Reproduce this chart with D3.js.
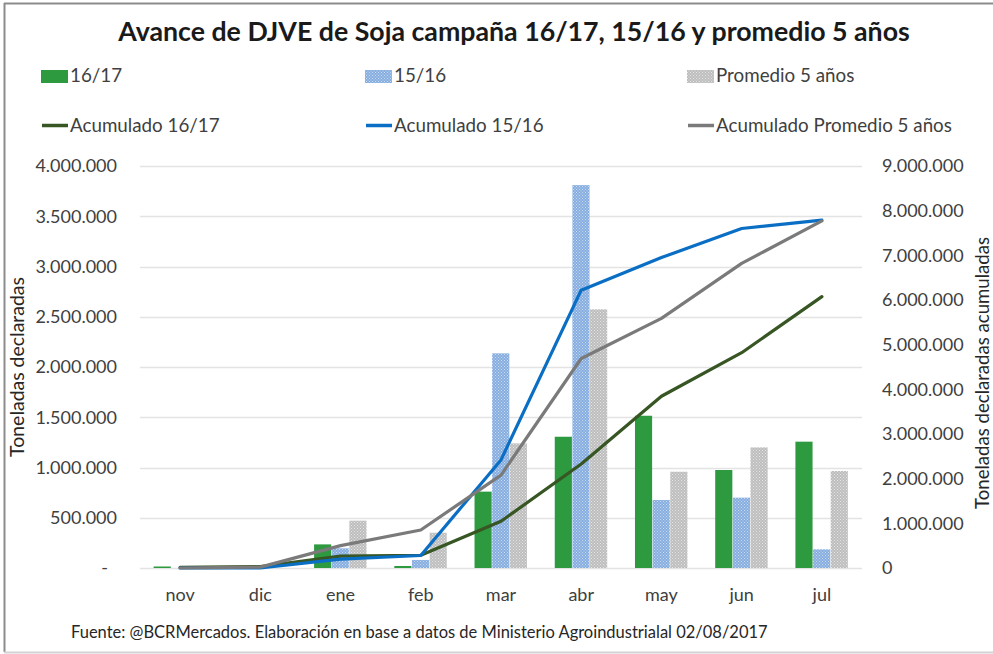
<!DOCTYPE html>
<html>
<head>
<meta charset="utf-8">
<script src="https://cdn.jsdelivr.net/npm/d3@7"></script>
<style>
  html, body { margin: 0; padding: 0; background: #fff; }
  svg { display: block; font-family: Lato, "Open Sans", sans-serif; }
</style>
</head>
<body>
<svg id="chart" width="993" height="654"></svg>
<script>
// ---- data ----
const months = ["nov", "dic", "ene", "feb", "mar", "abr", "may", "jun", "jul"];
const bars1617 = [15000, 15000, 235000, 20000, 760000, 1306000, 1515000, 975000, 1257000];
const bars1516 = [0, 0, 196000, 80000, 2136000, 3810000, 677000, 700000, 186000];
const barsProm = [0, 0, 471000, 351000, 1240000, 2574000, 958000, 1200000, 965000];
const acum1617 = [15000, 30000, 265000, 285000, 1045000, 2330000, 3845000, 4820000, 6075000];
const acum1516 = [0, 0, 200000, 280000, 2420000, 6220000, 6950000, 7600000, 7790000];
const acumProm = [0, 20000, 500000, 850000, 2080000, 4690000, 5590000, 6820000, 7770000];
const leftTicks = [0, 500000, 1000000, 1500000, 2000000, 2500000, 3000000, 3500000, 4000000];
const rightTicks = [0, 1000000, 2000000, 3000000, 4000000, 5000000, 6000000, 7000000, 8000000, 9000000];
const barSeries = ["16/17", "15/16", "Promedio 5 años"];
const lineSeries = ["Acumulado 16/17", "Acumulado 15/16", "Acumulado Promedio 5 años"];
const titleText = "Avance de DJVE de Soja campaña 16/17, 15/16 y promedio 5 años";
const leftTitle = "Toneladas declaradas";
const rightTitle = "Toneladas declaradas acumuladas";
const footerText = "Fuente: @BCRMercados.  Elaboración en base a datos de Ministerio Agroindustrialal 02/08/2017";

// ---- setup ----
const svg = d3.select("#chart");
const W = 993, H = 654;
const plot = { left: 140, right: 862, top: 166, bottom: 568 };

const loc = d3.formatLocale({ decimal: ",", thousands: ".", grouping: [3], currency: ["", ""] });
const fmt = loc.format(",.0f");

function fit(sel, w) {
  const n = sel.node();
  const fs = parseFloat(sel.attr("font-size"));
  const l = n.getComputedTextLength();
  sel.attr("font-size", (fs * w / l).toFixed(2));
}

// patterns
const defs = svg.append("defs");
function makePattern(id, base, dot) {
  const p = defs.append("pattern").attr("id", id).attr("patternUnits", "userSpaceOnUse")
    .attr("width", 3).attr("height", 3);
  p.append("rect").attr("width", 3).attr("height", 3).attr("fill", base);
  p.append("rect").attr("x", 0).attr("y", 0).attr("width", 1).attr("height", 1).attr("fill", dot);
  p.append("rect").attr("x", 1.5).attr("y", 1.5).attr("width", 1).attr("height", 1).attr("fill", dot);
}
makePattern("pBlue", "#86ade0", "#c9dcf2");
makePattern("pGray", "#bdbdbd", "#e6e6e6");

const barFills = ["#2e9a40", "url(#pBlue)", "url(#pGray)"];
const lineColors = ["#375623", "#0a6fc4", "#7a7a7a"];

// frame
svg.append("line").attr("x1", 4).attr("x2", W).attr("y1", 3.5).attr("y2", 3.5).attr("stroke", "#8c8c8c").attr("stroke-width", 2);
svg.append("line").attr("x1", 4.5).attr("x2", 4.5).attr("y1", 3).attr("y2", 652).attr("stroke", "#8c8c8c").attr("stroke-width", 2);
svg.append("line").attr("x1", 4).attr("x2", W).attr("y1", 652.5).attr("y2", 652.5).attr("stroke", "#d4d4d4").attr("stroke-width", 2);

// scales
const x0 = d3.scaleBand().domain(months).range([plot.left, plot.right]).paddingInner(0.34).paddingOuter(0.17);
const x1 = d3.scaleBand().domain(barSeries).range([0, x0.bandwidth()]).padding(0);
const yL = d3.scaleLinear().domain([0, 4000000]).range([plot.bottom, plot.top]);
const yR = d3.scaleLinear().domain([0, 9000000]).range([plot.bottom, plot.top]);
const xc = m => x0(m) + x0.bandwidth() / 2;

// gridlines
svg.append("g").selectAll("line").data(leftTicks).join("line")
  .attr("x1", plot.left).attr("x2", plot.right)
  .attr("y1", d => Math.round(yL(d)) + 0.5).attr("y2", d => Math.round(yL(d)) + 0.5)
  .attr("stroke", "#e3e3e3").attr("stroke-width", 1.5);

// left axis
const axL = d3.axisLeft(yL).tickValues(leftTicks).tickSize(0).tickPadding(0)
  .tickFormat(d => d === 0 ? "-" : fmt(d));
const gL = svg.append("g").attr("transform", `translate(117,0)`).call(axL);
gL.select(".domain").remove();
gL.selectAll("text").attr("font-size", 18).attr("fill", "#404040").attr("font-family", "Lato")
  .attr("dx", d => d === 0 ? -9 : 0);

// right axis
const axR = d3.axisRight(yR).tickValues(rightTicks).tickSize(0).tickPadding(0)
  .tickFormat(d => d === 0 ? "0" : fmt(d));
const gR = svg.append("g").attr("transform", `translate(882,0)`).call(axR);
gR.select(".domain").remove();
gR.selectAll("text").attr("font-size", 18).attr("fill", "#404040").attr("font-family", "Lato");

// x axis
const axX = d3.axisBottom(x0).tickSize(0).tickPadding(0);
const gX = svg.append("g").attr("transform", `translate(0,${plot.bottom + 20})`).call(axX);
gX.select(".domain").remove();
gX.selectAll("text").attr("font-size", 18).attr("fill", "#404040").attr("font-family", "Lato");

// bars
const allBars = [bars1617, bars1516, barsProm];
const gBars = svg.append("g");
months.forEach((m, i) => {
  barSeries.forEach((s, k) => {
    const v = allBars[k][i];
    gBars.append("rect")
      .attr("x", x0(m) + x1(s))
      .attr("width", x1.bandwidth() - 0.5)
      .attr("y", yL(v))
      .attr("height", yL(0) - yL(v))
      .attr("fill", barFills[k]);
  });
});

// lines
const allLines = [acum1617, acum1516, acumProm];
const lineGen = d3.line().x((d, i) => xc(months[i])).y(d => yR(d)).curve(d3.curveLinear);
allLines.forEach((arr, k) => {
  svg.append("path").datum(arr).attr("d", lineGen)
    .attr("fill", "none").attr("stroke", lineColors[k]).attr("stroke-width", 3.2)
    .attr("stroke-linejoin", "round").attr("stroke-linecap", "round");
});

// title
const t = svg.append("text").attr("x", 514).attr("y", 41).attr("text-anchor", "middle")
  .attr("font-size", 25).attr("font-weight", 700).attr("fill", "#1a1a1a").text(titleText);
fit(t, 792);

// legend
const legX = [41, 365, 687];
barSeries.forEach((s, k) => {
  svg.append("rect").attr("x", legX[k]).attr("y", 70).attr("width", 27).attr("height", 13).attr("fill", barFills[k]);
  svg.append("text").attr("x", legX[k] + 29).attr("y", 82).attr("font-size", 18.8).attr("fill", "#404040").text(s);
});
lineSeries.forEach((s, k) => {
  svg.append("line").attr("x1", legX[k] + 1).attr("x2", legX[k] + 27).attr("y1", 125.5).attr("y2", 125.5)
    .attr("stroke", lineColors[k]).attr("stroke-width", 3.5);
  svg.append("text").attr("x", legX[k] + 29).attr("y", 132).attr("font-size", 18.8).attr("fill", "#404040").text(s);
});

// axis titles
const lt = svg.append("text").attr("transform", "translate(24,367) rotate(-90)").attr("text-anchor", "middle")
  .attr("font-size", 17).attr("fill", "#262626").text(leftTitle);
fit(lt, 180);
const rt = svg.append("text").attr("transform", "translate(989,373) rotate(-90)").attr("text-anchor", "middle")
  .attr("font-size", 17).attr("fill", "#262626").text(rightTitle);
fit(rt, 272);

// footer
const f = svg.append("text").attr("x", 71).attr("y", 638).attr("font-size", 15).attr("fill", "#262626").text(footerText);
fit(f, 697);
</script>
</body>
</html>
